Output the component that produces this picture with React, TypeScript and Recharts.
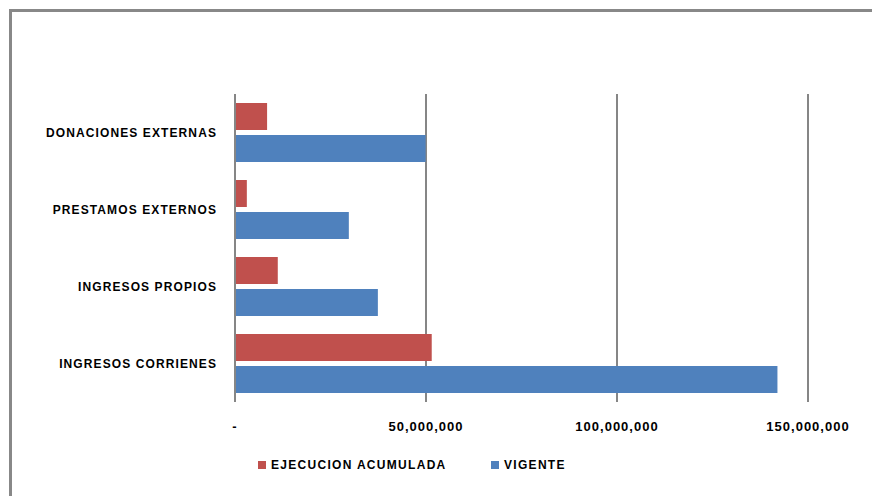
import { BarChart, Bar, XAxis, YAxis, CartesianGrid, Legend } from "recharts";

// categories, top to bottom as drawn
const categories = [
  "DONACIONES EXTERNAS",
  "PRESTAMOS EXTERNOS",
  "INGRESOS PROPIOS",
  "INGRESOS CORRIENES",
];
const ejecucionAcumulada = [8400000, 3100000, 11200000, 51500000];
const vigente = [49900000, 29800000, 37400000, 142000000];
const valueTicks = [0, 50000000, 100000000, 150000000];

const data = categories.map((name, i) => ({
  name,
  ejecucion: ejecucionAcumulada[i],
  vigente: vigente[i],
}));

const FONT = '"Liberation Sans", Arial, sans-serif';
const GRID = "#868686";

const formatValue = (v: number) => (v === 0 ? "-" : v.toLocaleString("en-US"));

function LegendRow({ payload }: any) {
  return (
    <div
      style={{
        display: "flex",
        alignItems: "center",
        height: 20,
        paddingLeft: 246,
        fontFamily: FONT,
        fontSize: 12,
        fontWeight: "bold",
        letterSpacing: 1.3,
        color: "#000",
      }}
    >
      {(payload || []).map((item: any, i: number) => (
        <div
          key={item.value}
          style={{ display: "flex", alignItems: "center", width: i === 0 ? 233 : "auto" }}
        >
          <span style={{ width: 8, height: 8, background: item.color, marginRight: 5 }} />
          <span>{item.value}</span>
        </div>
      ))}
    </div>
  );
}

export default function App() {
  return (
    <>
      <style>{"body{margin:0;overflow:hidden}"}</style>
      <div
        style={{
          marginLeft: 9,
          marginTop: 9,
          width: 860,
          height: 484,
          borderTop: "3px solid #888",
          borderLeft: "3px solid #888",
          background: "#fff",
        }}
      >
        <BarChart
          width={860}
          height={484}
          data={data}
          layout="vertical"
          margin={{ top: 82, right: 64, bottom: 21, left: 0 }}
          barSize={27}
          barGap={5}
        >
          <CartesianGrid horizontal={false} stroke={GRID} strokeWidth={2} />
          <XAxis
            type="number"
            domain={[0, 150000000]}
            ticks={valueTicks}
            interval={0}
            tickFormatter={formatValue}
            axisLine={false}
            tickLine={false}
            tickSize={6}
            tickMargin={14}
            height={53}
            tick={{
              fill: "#000",
              fontSize: 13,
              fontWeight: "bold",
              fontFamily: FONT,
              style: { letterSpacing: 1 },
            }}
          />
          <YAxis
            type="category"
            dataKey="name"
            width={223}
            axisLine={{ stroke: GRID, strokeWidth: 2 }}
            tickLine={false}
            tickMargin={12}
            tick={{
              fill: "#000",
              fontSize: 12,
              fontWeight: "bold",
              fontFamily: FONT,
              style: { letterSpacing: 1.1 },
            }}
          />
          <Legend verticalAlign="bottom" content={<LegendRow />} />
          <Bar dataKey="ejecucion" name="EJECUCION ACUMULADA" fill="#C0504D" isAnimationActive={false} />
          <Bar dataKey="vigente" name="VIGENTE" fill="#4F81BD" isAnimationActive={false} />
        </BarChart>
      </div>
    </>
  );
}
